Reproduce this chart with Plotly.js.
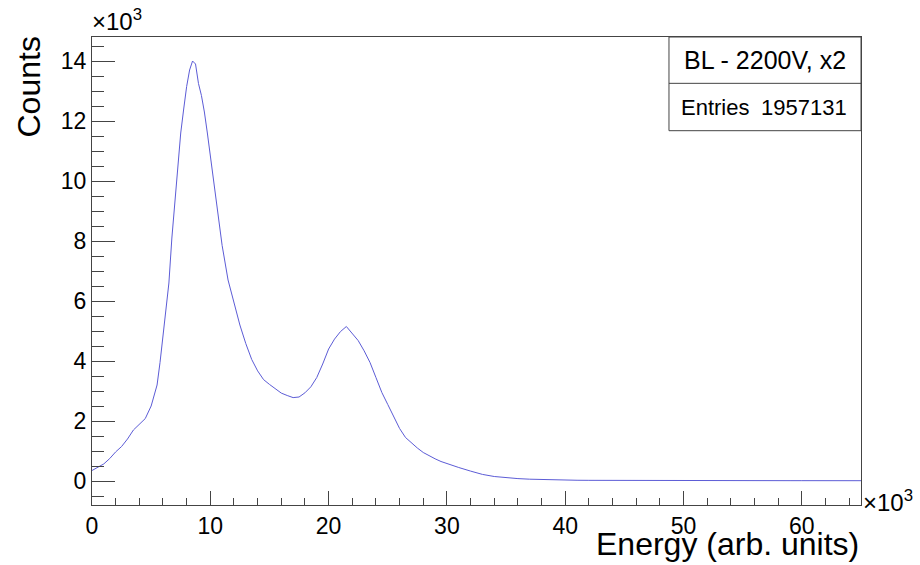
<!DOCTYPE html>
<html>
<head>
<meta charset="utf-8">
<script src="https://cdn.plot.ly/plotly-3.0.1.min.js"></script>
<style>
  html, body { margin: 0; padding: 0; background: #ffffff; }
  #chart { width: 920px; height: 565px; }
</style>
</head>
<body>
<div id="chart"></div>
<script>
// ---- data ----
const energy = [
  0, 500, 1000, 1500, 2000, 2500, 3000, 3500, 4000, 4500, 5000, 5500, 5750,
  6000, 6250, 6500, 6750, 7000, 7250, 7500, 7750, 8000, 8250, 8500, 8750,
  9000, 9250, 9500, 9750, 10000, 10250, 10500, 10750, 11000, 11500, 12000,
  12500, 13000, 13500, 14000, 14500, 15000, 15500, 16000, 16500, 17000, 17500,
  18000, 18500, 19000, 19500, 20000, 20500, 21000, 21500, 22000, 22500, 23000,
  23500, 24000, 24500, 25000, 25500, 26000, 26500, 27000, 27500, 28000, 28500,
  29000, 29500, 30000, 31000, 32000, 33000, 34000, 35000, 36000, 37000, 38000,
  39000, 40000, 41000, 42000, 43000, 44000, 45000, 46000, 47000, 48000, 49000,
  50000, 51000, 52000, 53000, 54000, 55000, 56000, 57000, 58000, 59000, 60000,
  61000, 62000, 63000, 64000, 65000
];
const counts = [
  350, 450, 570, 750, 970, 1150, 1400, 1700, 1900, 2080, 2500, 3200, 3950,
  4800, 5600, 6600, 8100, 9300, 10300, 11600, 12400, 13150, 13700, 14000, 13900,
  13250, 12850, 12300, 11600, 10850, 10060, 9300, 8500, 7850, 6700, 5950,
  5200, 4580, 4050, 3670, 3380, 3220, 3070, 2930, 2850, 2780, 2800,
  2940, 3140, 3450, 3900, 4400, 4730, 4980, 5150, 4920, 4680, 4340,
  3950, 3450, 2950, 2550, 2150, 1750, 1450, 1270, 1100, 950, 840,
  740, 650, 580, 450, 330, 220, 150, 110, 80, 60, 45,
  35, 28, 25, 22, 20, 20, 18, 18, 17, 16, 16,
  15, 15, 14, 14, 13, 13, 12, 12, 12, 11, 11,
  11, 10, 10, 10, 10
];
const xTickVals = [0, 10000, 20000, 30000, 40000, 50000, 60000];
const xTickText = ['0', '10', '20', '30', '40', '50', '60'];
const yTickVals = [0, 2000, 4000, 6000, 8000, 10000, 12000, 14000];
const yTickText = ['0', '2', '4', '6', '8', '10', '12', '14'];
const histName = 'BL - 2200V, x2';
const entriesLabel = 'Entries';
const entriesValue = '1957131';
const xTitle = 'Energy (arb. units)';
const yTitle = 'Counts';

// ---- chart ----
const FONT = 'Liberation Sans, Arial, Helvetica, sans-serif';
const AX = '#444444';

const trace = {
  x: energy, y: counts, type: 'scatter', mode: 'lines',
  line: { color: '#5c5cd6', width: 1 },
  hoverinfo: 'skip', showlegend: false
};

const layout = {
  width: 920, height: 565,
  margin: { l: 92, r: 59, t: 37, b: 60 },
  paper_bgcolor: '#ffffff', plot_bgcolor: '#ffffff',
  font: { family: FONT, color: '#000000' },
  showlegend: false,
  xaxis: {
    range: [0, 65000], showgrid: false, zeroline: false,
    showline: true, mirror: true, linecolor: AX, linewidth: 1,
    ticks: 'inside', ticklen: 14, tickcolor: AX, tickwidth: 1,
    tickvals: xTickVals, ticktext: xTickText,
    tickfont: { size: 23, family: FONT, color: '#000' },
    minor: { ticks: 'inside', ticklen: 7, dtick: 2000, tickcolor: AX, showgrid: false }
  },
  yaxis: {
    range: [-800, 14800], showgrid: false, zeroline: false,
    showline: true, mirror: true, linecolor: AX, linewidth: 1,
    ticks: 'inside', ticklen: 23, tickcolor: AX, tickwidth: 1,
    tickvals: yTickVals, ticktext: yTickText,
    tickfont: { size: 23, family: FONT, color: '#000' },
    minor: { ticks: 'inside', ticklen: 12, dtick: 500, tickcolor: AX, showgrid: false }
  },
  shapes: [
    { type: 'rect', xref: 'paper', yref: 'paper', x0: 0.7503, x1: 1.0, y0: 0.7998, y1: 1.0,
      line: { color: AX, width: 1 }, fillcolor: '#ffffff' },
    { type: 'line', xref: 'paper', yref: 'paper', x0: 0.7503, x1: 1.0, y0: 0.901, y1: 0.901,
      line: { color: AX, width: 1 } }
  ],
  annotations: [
    { xref: 'paper', yref: 'paper', x: 0.875, y: 0.9505, xanchor: 'center', yanchor: 'middle',
      text: histName, showarrow: false, font: { size: 25, family: FONT, color: '#000' } },
    { xref: 'paper', yref: 'paper', x: 0.7503, y: 0.850, xanchor: 'left', yanchor: 'middle', xshift: 10,
      text: entriesLabel, showarrow: false, font: { size: 22, family: FONT, color: '#000' } },
    { xref: 'paper', yref: 'paper', x: 1.0, y: 0.850, xanchor: 'right', yanchor: 'middle', xshift: -12,
      text: entriesValue, showarrow: false, font: { size: 22, family: FONT, color: '#000' } },
    { xref: 'paper', yref: 'paper', x: 0, y: 1, xanchor: 'left', yanchor: 'bottom', xshift: -2, yshift: 0,
      text: '×10<sup>3</sup>', showarrow: false, font: { size: 24, family: FONT, color: '#000' } },
    { xref: 'paper', yref: 'paper', x: 1, y: 0, xanchor: 'left', yanchor: 'middle', xshift: 0, yshift: 4,
      text: '×10<sup>3</sup>', showarrow: false, font: { size: 24, family: FONT, color: '#000' } },
    { xref: 'paper', yref: 'paper', x: 1, y: 0, xanchor: 'right', yanchor: 'top', yshift: -19,
      text: xTitle, showarrow: false, font: { size: 32, family: FONT, color: '#000' } },
    { xref: 'paper', yref: 'paper', x: 0, y: 1, xanchor: 'center', yanchor: 'top', xshift: -64, yshift: 2,
      textangle: -90, text: yTitle, showarrow: false, font: { size: 32, family: FONT, color: '#000' } }
  ]
};

Plotly.newPlot('chart', [trace], layout, { staticPlot: true, displayModeBar: false });
</script>
</body>
</html>
